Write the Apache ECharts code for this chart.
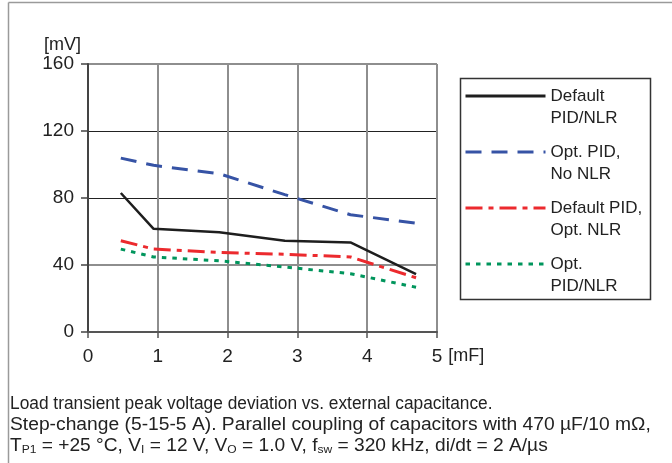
<!DOCTYPE html>
<html><head><meta charset="utf-8">
<script src="https://cdn.jsdelivr.net/npm/echarts@6/dist/echarts.min.js"></script>
<style>html,body{margin:0;padding:0;background:#fff}#c{width:672px;height:463px}</style>
</head><body><div id="c"></div>
<script>
// ---- data ----
const capacitance = [0.47, 0.94, 1.88, 2.82, 3.76, 4.70];      // [mF]
const defaultPidNlr    = [83.0, 61.6, 59.5, 54.5, 53.5, 34.6];  // [mV]
const optPidNoNlr      = [103.8, 99.5, 94.5, 82.0, 70.0, 65.0];
const defaultPidOptNlr = [54.5, 49.5, 47.5, 46.4, 44.8, 32.4];
const optPidNlr        = [49.5, 44.8, 42.5, 38.8, 34.8, 26.7];
const seriesNames = ['Default\nPID/NLR', 'Opt. PID,\nNo NLR', 'Default PID,\nOpt. NLR', 'Opt.\nPID/NLR'];
const xRange = [0, 5, 1];
const yRange = [0, 160, 40];
const xUnit = '[mF]';
const yUnit = '[mV]';
const captionLine1 = 'Load transient peak voltage deviation vs. external capacitance.';
const captionLine2 = 'Step-change (5-15-5 A). Parallel coupling of capacitors with 470 µF/10 mΩ,';
const captionLine3 = 'T{s|P1} = +25 °C, V{s|I} = 12 V, V{s|O} = 1.0 V, f{s|sw} = 320 kHz, di/dt = 2 A/µs';

const FONT = '"Liberation Sans", Arial, Helvetica, sans-serif';
const pair = ys => capacitance.map((x, i) => [x, ys[i]]);

const chart = echarts.init(document.getElementById('c'), null, {renderer: 'canvas'});
const styles = [
  {color: '#1e1e1e', width: 2.5, type: 'solid'},
  {color: '#3653a5', width: 3, type: [16, 10]},
  {color: '#ec2a2e', width: 3, type: [17, 6, 5, 6]},
  {color: '#00955c', width: 3, type: [4.5, 6]}
];
const dataSets = [defaultPidNlr, optPidNoNlr, defaultPidOptNlr, optPidNlr];

chart.setOption({
  animation: false,
  backgroundColor: '#fff',
  textStyle: {fontFamily: FONT},
  grid: {left: 88, top: 64, right: 235, bottom: 131, containLabel: false},
  xAxis: {
    type: 'value', min: xRange[0], max: xRange[1], interval: xRange[2],
    name: xUnit, nameLocation: 'end', nameGap: 7,
    nameTextStyle: {fontFamily: FONT, fontSize: 18, color: '#222', verticalAlign: 'top', lineHeight: 48},
    axisLine: {show: true, onZero: false, lineStyle: {color: '#555', width: 2}},
    axisTick: {show: true, length: 6, inside: false, lineStyle: {color: '#555', width: 1.5}},
    axisLabel: {fontFamily: FONT, fontSize: 19, color: '#222', margin: 15},
    splitLine: {show: true, lineStyle: {color: '#8e8e8e', width: 2}}
  },
  yAxis: [{
    type: 'value', min: yRange[0], max: yRange[1], interval: yRange[2], position: 'left',
    name: yUnit, nameLocation: 'end', nameGap: 10,
    nameTextStyle: {fontFamily: FONT, fontSize: 18, color: '#222', align: 'right', padding: [0, 7, 0, 0]},
    axisLine: {show: true, lineStyle: {color: '#444', width: 2}},
    axisTick: {show: true, length: 7, lineStyle: {color: '#444', width: 1.5}},
    axisLabel: {fontFamily: FONT, fontSize: 19, color: '#222', margin: 14},
    splitLine: {show: true, lineStyle: {color: ['transparent', 'transparent', '#222', '#222', 'transparent'], width: 1}}
  }, {
    type: 'value', min: yRange[0], max: yRange[1], interval: yRange[2], position: 'left',
    axisLine: {show: false}, axisTick: {show: false}, axisLabel: {show: false},
    splitLine: {show: true, lineStyle: {color: ['transparent', '#8e8e8e', 'transparent', 'transparent', '#8e8e8e'], width: 2}}
  }],
  legend: {
    orient: 'vertical', left: 464, top: 63, padding: 0, itemGap: -10,
    itemWidth: 80, itemHeight: 14,
    data: seriesNames,
    formatter: n => '\n' + n,
    itemStyle: {opacity: 0},
    lineStyle: {width: 3},
    textStyle: {fontFamily: FONT, fontSize: 17, color: '#222', lineHeight: 22}
  },
  series: seriesNames.map((name, i) => ({
    name, type: 'line', data: pair(dataSets[i]), symbol: 'none', yAxisIndex: 0,
    lineStyle: styles[i], itemStyle: {color: styles[i].color}, z: 5
  })),
  graphic: [
    {type: 'line', shape: {x1: 8.5, y1: 2.5, x2: 8.5, y2: 463}, style: {stroke: '#9a9a9a', lineWidth: 1.5}, silent: true},
    {type: 'line', shape: {x1: 8.5, y1: 2.5, x2: 672, y2: 2.5}, style: {stroke: '#9a9a9a', lineWidth: 1.5}, silent: true},
    {type: 'rect', shape: {x: 460.5, y: 78.5, width: 190, height: 221}, style: {fill: 'none', stroke: '#333', lineWidth: 1.5}, silent: true, z: -1},
    {type: 'text', x: 10, y: 395, scaleX: 0.99, style: {text: captionLine1, font: '17.5px ' + FONT, fill: '#222', verticalAlign: 'top'}},
    {type: 'text', x: 10, y: 416, scaleX: 1.1, style: {text: captionLine2, font: '17.5px ' + FONT, fill: '#222', verticalAlign: 'top'}},
    {type: 'text', x: 10, y: 437, scaleX: 1.095, style: {text: captionLine3, font: '17.5px ' + FONT, fill: '#222', verticalAlign: 'top',
      rich: {s: {fontSize: 11, fontFamily: FONT, fill: '#222', padding: [7, 0, 0, 0]}}}}
  ]
});
</script>
</body></html>
